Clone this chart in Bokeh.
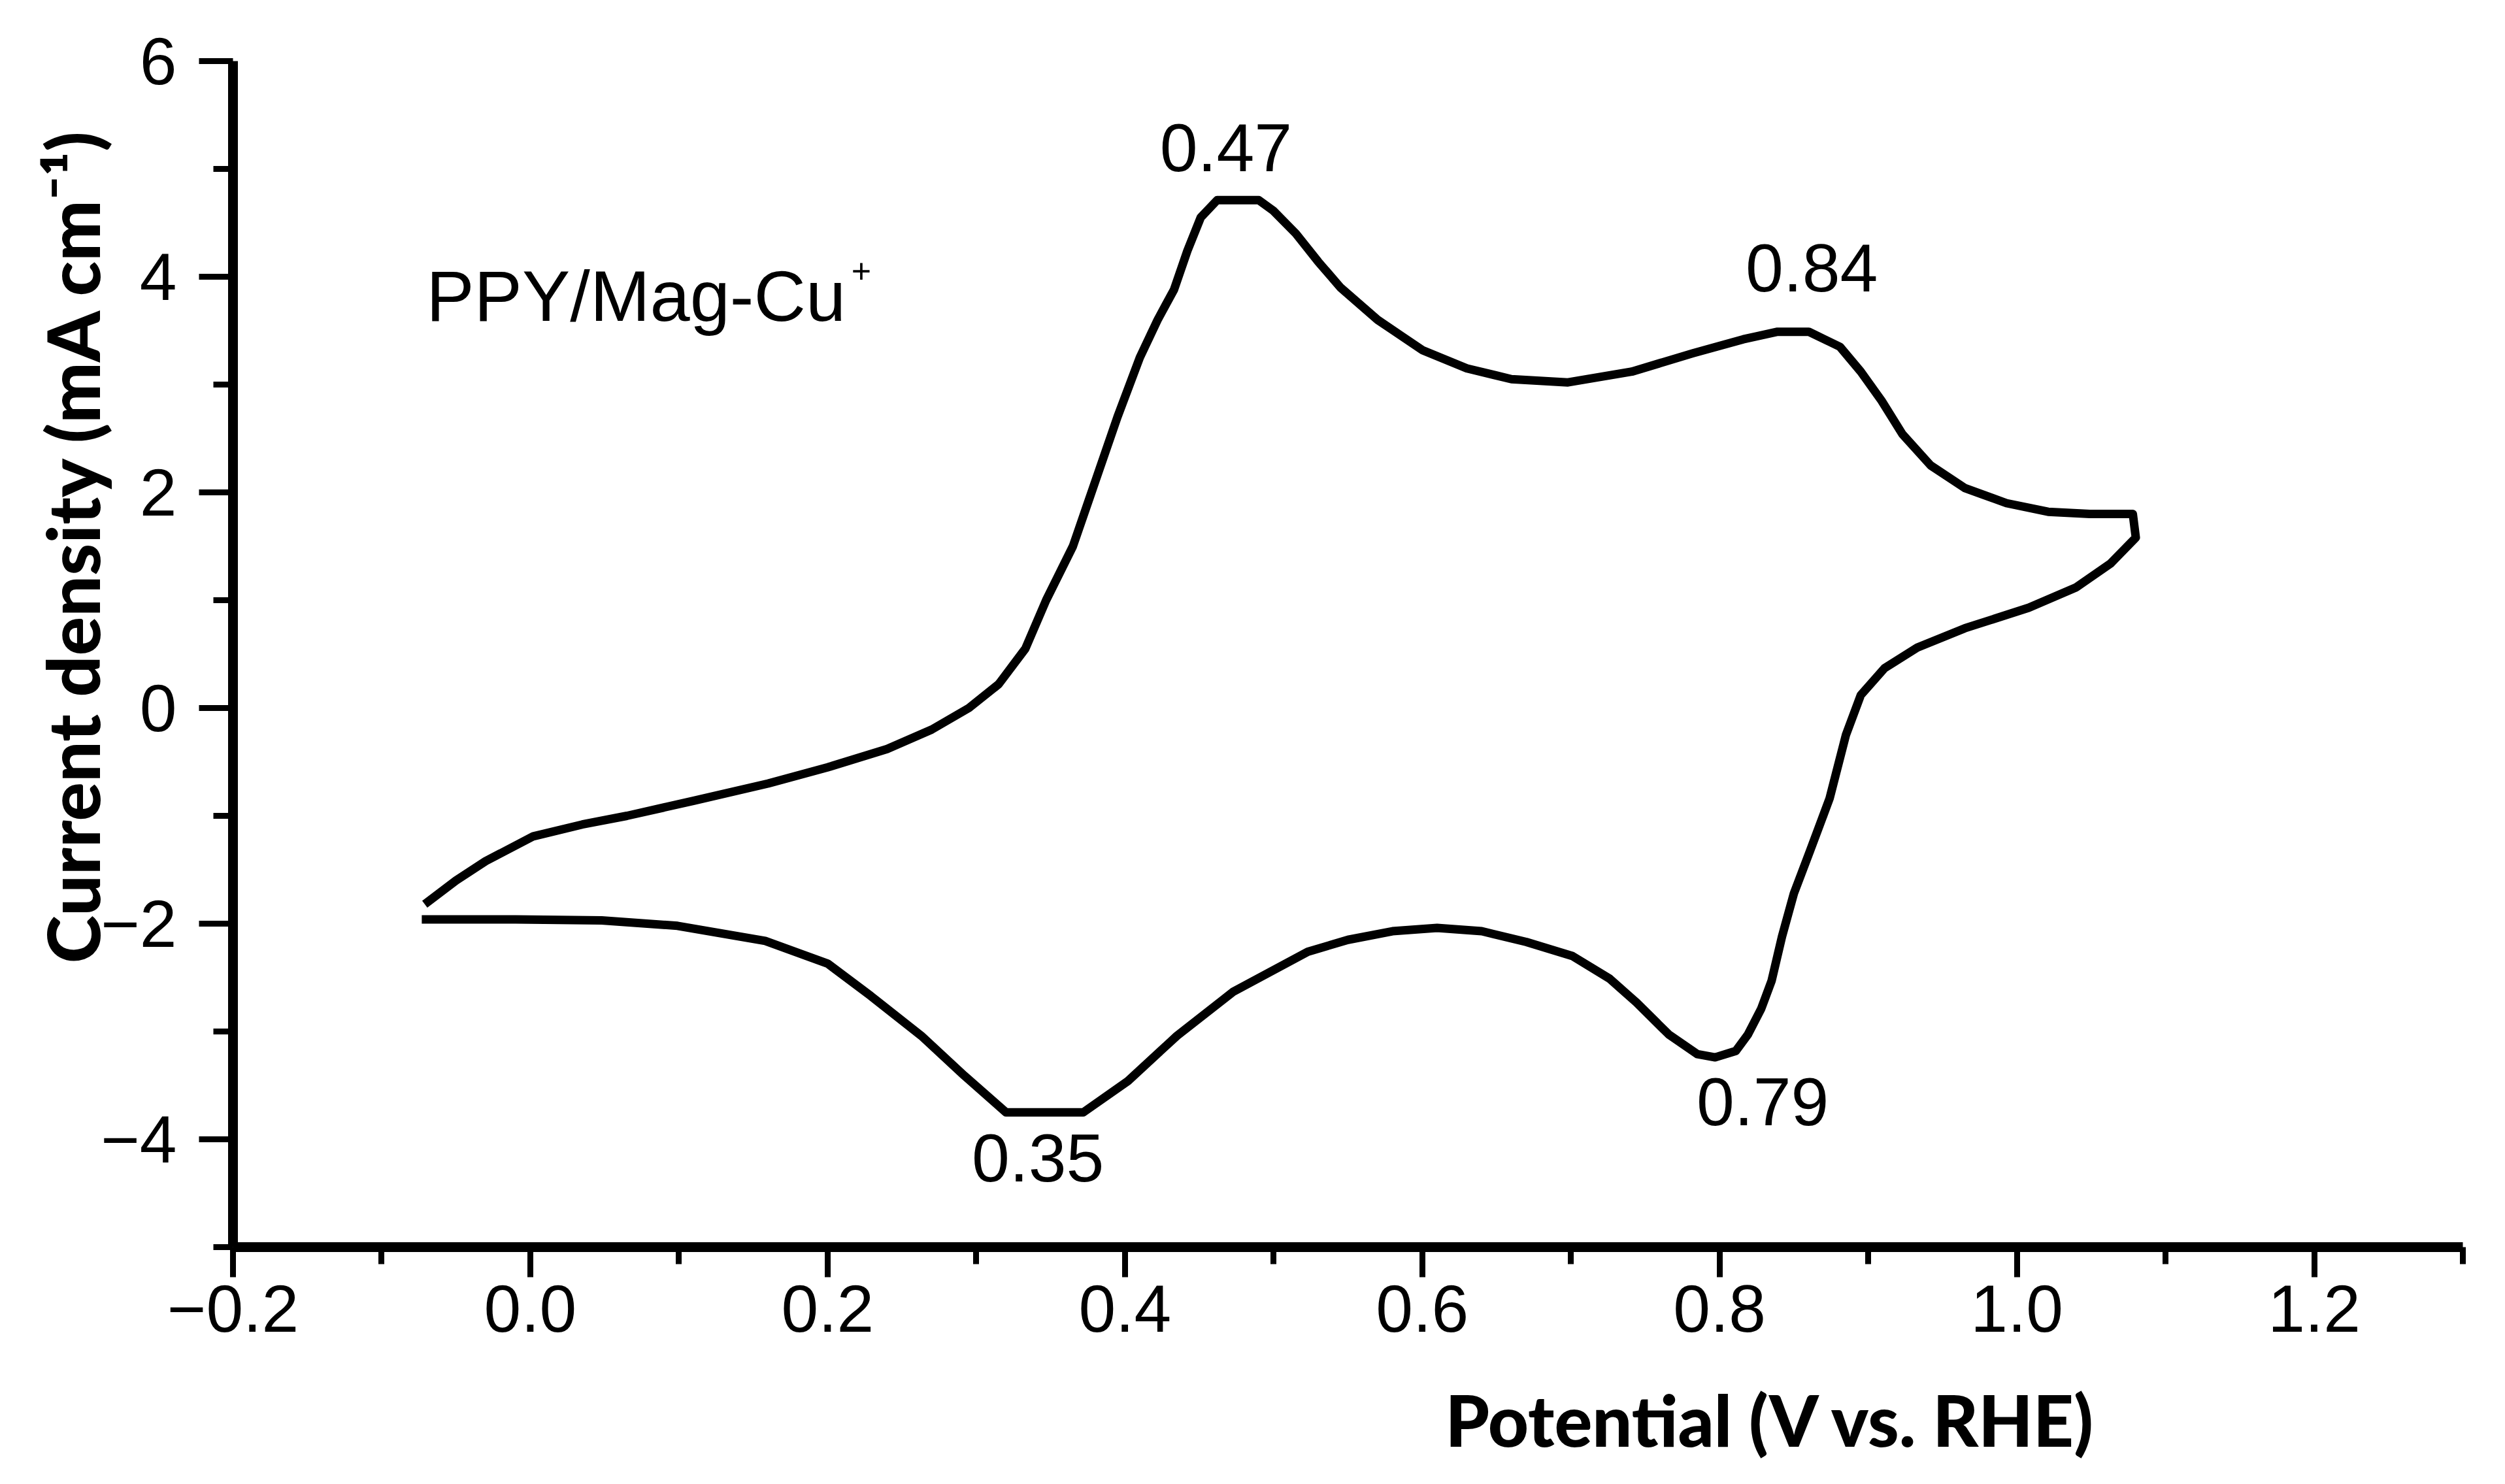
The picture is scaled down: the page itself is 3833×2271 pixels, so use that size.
from bokeh.plotting import figure
from bokeh.models import FixedTicker, CustomJSTickFormatter
from bokeh.core.properties import value
from bokeh.embed import file_html
from bokeh.resources import INLINE

# ---- data ----
# forward (anodic) scan
anodic_potential = [-0.071, -0.050, -0.030, 0.002, 0.035, 0.065, 0.110, 0.160, 0.200, 0.240,
                    0.270, 0.295, 0.315, 0.333, 0.347, 0.365, 0.380, 0.395, 0.410, 0.422,
                    0.433, 0.442, 0.451, 0.462, 0.490, 0.500, 0.515, 0.530, 0.545, 0.570,
                    0.600, 0.630, 0.660, 0.698, 0.741, 0.782, 0.816, 0.839, 0.860, 0.881,
                    0.895, 0.909, 0.923, 0.942, 0.965, 0.993, 1.021, 1.049, 1.078, 1.080]
anodic_current = [-1.82, -1.60, -1.42, -1.19, -1.08, -1.00, -0.86, -0.70, -0.55, -0.38,
                  -0.20, 0.00, 0.22, 0.55, 1.00, 1.50, 2.10, 2.70, 3.25, 3.60,
                  3.88, 4.24, 4.55, 4.71, 4.71, 4.61, 4.40, 4.14, 3.90, 3.60,
                  3.32, 3.15, 3.05, 3.02, 3.12, 3.29, 3.42, 3.49, 3.49, 3.35,
                  3.12, 2.85, 2.54, 2.25, 2.04, 1.90, 1.82, 1.80, 1.80, 1.58]
# reverse (cathodic) scan
cathodic_potential = [1.063, 1.040, 1.008, 0.965, 0.933, 0.911, 0.895, 0.885, 0.874, 0.861,
                      0.850, 0.842, 0.835, 0.828, 0.819, 0.811, 0.797, 0.785, 0.766, 0.744,
                      0.726, 0.701, 0.670, 0.640, 0.610, 0.580, 0.550, 0.523, 0.473, 0.435,
                      0.402, 0.372, 0.320, 0.292, 0.263, 0.229, 0.200, 0.158, 0.099, 0.048,
                      -0.010, -0.073]
cathodic_current = [1.34, 1.12, 0.93, 0.74, 0.56, 0.37, 0.12, -0.25, -0.84, -1.32,
                    -1.72, -2.12, -2.53, -2.79, -3.03, -3.18, -3.24, -3.21, -3.03, -2.73,
                    -2.51, -2.30, -2.17, -2.07, -2.04, -2.07, -2.15, -2.26, -2.63, -3.04,
                    -3.46, -3.75, -3.75, -3.41, -3.04, -2.67, -2.37, -2.16, -2.02, -1.97,
                    -1.96, -1.96]

x_major = [-0.2, 0.0, 0.2, 0.4, 0.6, 0.8, 1.0, 1.2]
x_minor = [-0.1, 0.1, 0.3, 0.5, 0.7, 0.9, 1.1, 1.3]
x_tick_labels = ["\u22120.2", "0.0", "0.2", "0.4", "0.6", "0.8", "1.0", "1.2"]
y_major = [-4, -2, 0, 2, 4, 6]
y_minor = [-5, -3, -1, 1, 3, 5]
y_tick_labels = ["\u22124", "\u22122", "0", "2", "4", "6"]

peak_texts = ["0.47", "0.84", "0.35", "0.79"]
peak_x = [0.468, 0.862, 0.3415, 0.829]
peak_y = [5.195, 4.081, -4.170, -3.649]

sample_name = "PPY/Mag-Cu"
sample_charge = "+"
x_title = "Potential (V vs. RHE)"
y_title = "Current density (mA cm\u207b\u00b9)"

FONT = "Liberation Sans"
# heavy-weight families (fall back to Liberation Sans if not present)
BOLD_FONT = "'Noto Sans ExtraBold', 'Lato Heavy', 'Liberation Sans'"
EMSP = "\u2003"

potential = anodic_potential + cathodic_potential
current = anodic_current + cathodic_current

p = figure(width=3833, height=2271, x_range=(-0.2, 1.3), y_range=(-5, 6),
           output_backend="svg", toolbar_location=None,
           min_border_left=356, min_border_right=65, min_border_top=93, min_border_bottom=363)
p.background_fill_color = "white"
p.border_fill_color = "white"
p.outline_line_color = None
p.xgrid.visible = False
p.ygrid.visible = False

p.line(potential, current, line_width=13, line_color="black", line_join="round")

fmt_x = CustomJSTickFormatter(code="return tick.toFixed(1).replace('-', '\\u2212');")
fmt_y = CustomJSTickFormatter(code="return tick.toFixed(0).replace('-', '\\u2212');")

for ax, major, minor, labels, fmt, tout, mout, stand in (
        (p.xaxis[0], x_major, x_minor, x_tick_labels, fmt_x, 46, 26, 12),
        (p.yaxis[0], y_major, y_minor, y_tick_labels, fmt_y, 52, 30, 34)):
    ax.ticker = FixedTicker(ticks=major, minor_ticks=minor)
    ax.formatter = fmt
    ax.major_label_overrides = {v: s for v, s in zip(major, labels)}
    ax.axis_line_width = 15
    ax.axis_line_color = "black"
    ax.major_tick_line_width = 9
    ax.minor_tick_line_width = 9
    ax.major_tick_line_color = "black"
    ax.minor_tick_line_color = "black"
    ax.major_tick_in = 0
    ax.minor_tick_in = 0
    ax.major_tick_out = tout
    ax.minor_tick_out = mout
    ax.major_label_standoff = stand
    ax.major_label_text_font = FONT
    ax.major_label_text_font_size = "102px"
    ax.major_label_text_color = "black"
    ax.axis_label_text_font = BOLD_FONT
    ax.axis_label_text_font_style = "normal"
    ax.axis_label_text_color = "black"

# axis titles sit off-centre in the reference: lead with em spaces
p.xaxis[0].axis_label = EMSP * 16 + x_title
p.xaxis[0].axis_label_text_font_size = "108px"
p.xaxis[0].axis_label_standoff = 66
p.yaxis[0].axis_label = EMSP * 4 + y_title
p.yaxis[0].axis_label_text_font_size = "111px"
p.yaxis[0].axis_label_standoff = -26

# in-plot annotations
p.text(x=peak_x, y=peak_y, text=peak_texts, text_align="center", text_baseline="alphabetic",
       text_font=value(FONT), text_font_size=value("104px"), text_color="black")
p.text(x=[-0.070], y=[3.825], text=[sample_name], text_align="left", text_baseline="alphabetic",
       text_font=value(FONT), text_font_size=value("110px"), text_color="black")
p.text(x=[0.216], y=[4.05], text=[sample_charge], text_align="left", text_baseline="alphabetic",
       text_font=value(FONT), text_font_size=value("52px"), text_color="black")

open("out.html", "w").write(file_html(p, INLINE))
